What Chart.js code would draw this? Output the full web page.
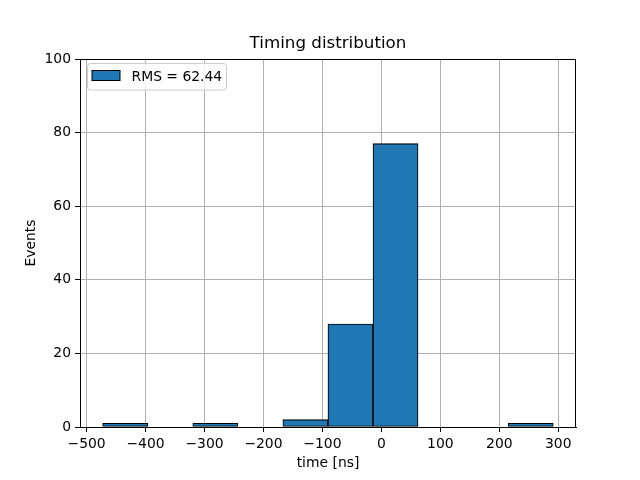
<!DOCTYPE html>
<html lang="en">
<head>
<meta charset="UTF-8" />
<title>Timing distribution</title>
<script src="https://cdn.jsdelivr.net/npm/chart.js"></script>
<style>
  body { margin: 0; background: #fff; }
  canvas { display: block; }
</style>
</head>
<body>
<canvas id="timingChart" width="640" height="480"></canvas>
<script>
  // histogram bins
  const binEdges = [-472.8, -396.4, -319.9, -243.5, -167.1, -90.7, -14.2, 62.2, 138.6, 215.1, 291.5];
  const counts = [1, 0, 1, 0, 2, 28, 77, 0, 0, 1];
  const xTicks = [-500, -400, -300, -200, -100, 0, 100, 200, 300];
  const yTicks = [0, 20, 40, 60, 80, 100];
  const chartTitle = 'Timing distribution';
  const legendLabel = 'RMS = 62.44';

  const FONT = '"DejaVu Sans", sans-serif';
  const barColor = '#1f77b4';

  const bins = counts.map((c, i) => ({ x: (binEdges[i] + binEdges[i + 1]) / 2, y: c }));

  // title centred over the axes, top/right spines, in-axes legend box
  const framePlugin = {
    id: 'frame',
    afterDraw(chart) {
      const { ctx, chartArea: a } = chart;
      ctx.save();
      ctx.fillStyle = '#000';
      ctx.font = '16.7px ' + FONT;
      ctx.textAlign = 'center';
      ctx.textBaseline = 'middle';
      ctx.fillText(chartTitle, (a.left + a.right) / 2, a.top - 15.5);

      ctx.strokeStyle = '#000';
      ctx.lineWidth = 1;
      ctx.beginPath();
      ctx.moveTo(Math.round(a.left) + 0.5, Math.round(a.top) + 0.5);
      ctx.lineTo(Math.round(a.right) - 0.5, Math.round(a.top) + 0.5);
      ctx.lineTo(Math.round(a.right) - 0.5, Math.round(a.bottom));
      ctx.stroke();

      const x = a.left + 7.5, y = a.top + 4.5, w = 139, h = 26.5;
      ctx.beginPath();
      ctx.roundRect(x, y, w, h, 3);
      ctx.fillStyle = 'rgba(255,255,255,0.8)';
      ctx.fill();
      ctx.strokeStyle = '#cccccc';
      ctx.stroke();

      ctx.fillStyle = barColor;
      ctx.fillRect(x + 4.5, y + 7, 28, 10);
      ctx.strokeStyle = '#000';
      ctx.strokeRect(x + 4.5, y + 7, 28, 10);

      ctx.fillStyle = '#000';
      ctx.font = '13.9px ' + FONT;
      ctx.textAlign = 'left';
      ctx.fillText(legendLabel, x + 44, y + 13.5);
      ctx.restore();
    }
  };

  const minus = v => String(v).replace('-', '\u2212');

  new Chart(document.getElementById('timingChart'), {
    type: 'bar',
    data: {
      datasets: [{
        label: legendLabel,
        data: bins,
        backgroundColor: barColor,
        borderColor: '#000',
        borderWidth: 1.1,
        borderSkipped: false,
        barPercentage: 1,
        categoryPercentage: 1
      }]
    },
    options: {
      responsive: false,
      animation: false,
      layout: { padding: { left: 0, right: 64, top: 59, bottom: 0 } },
      plugins: {
        legend: { display: false },
        tooltip: { enabled: false },
        title: { display: false }
      },
      scales: {
        x: {
          type: 'linear',
          min: -511.2,
          max: 330.1,
          offset: false,
          z: 1,
          afterFit: s => { s.height = 53; },
          afterBuildTicks: s => { s.ticks = xTicks.map(v => ({ value: v })); },
          grid: { offset: false, color: '#b0b0b0', lineWidth: 1, tickColor: '#000', tickLength: 5 },
          border: { color: '#000', width: 1 },
          ticks: { color: '#000', padding: 4, maxRotation: 0, font: { family: FONT, size: 13.9 }, callback: minus },
          title: { display: true, text: 'time [ns]', color: '#000', font: { family: FONT, size: 13.9 }, padding: { top: 0, bottom: 8.5 } }
        },
        y: {
          min: 0,
          max: 100,
          z: 1,
          afterFit: s => { s.width = 80; },
          afterBuildTicks: s => { s.ticks = yTicks.map(v => ({ value: v })); },
          grid: { color: '#b0b0b0', lineWidth: 1, tickColor: '#000', tickLength: 5 },
          border: { color: '#000', width: 1 },
          ticks: { color: '#000', padding: 4, font: { family: FONT, size: 13.9 } },
          title: { display: true, text: 'Events', color: '#000', font: { family: FONT, size: 13.9 }, padding: { top: 23, bottom: 0 } }
        }
      }
    },
    plugins: [framePlugin]
  });
</script>
</body>
</html>
